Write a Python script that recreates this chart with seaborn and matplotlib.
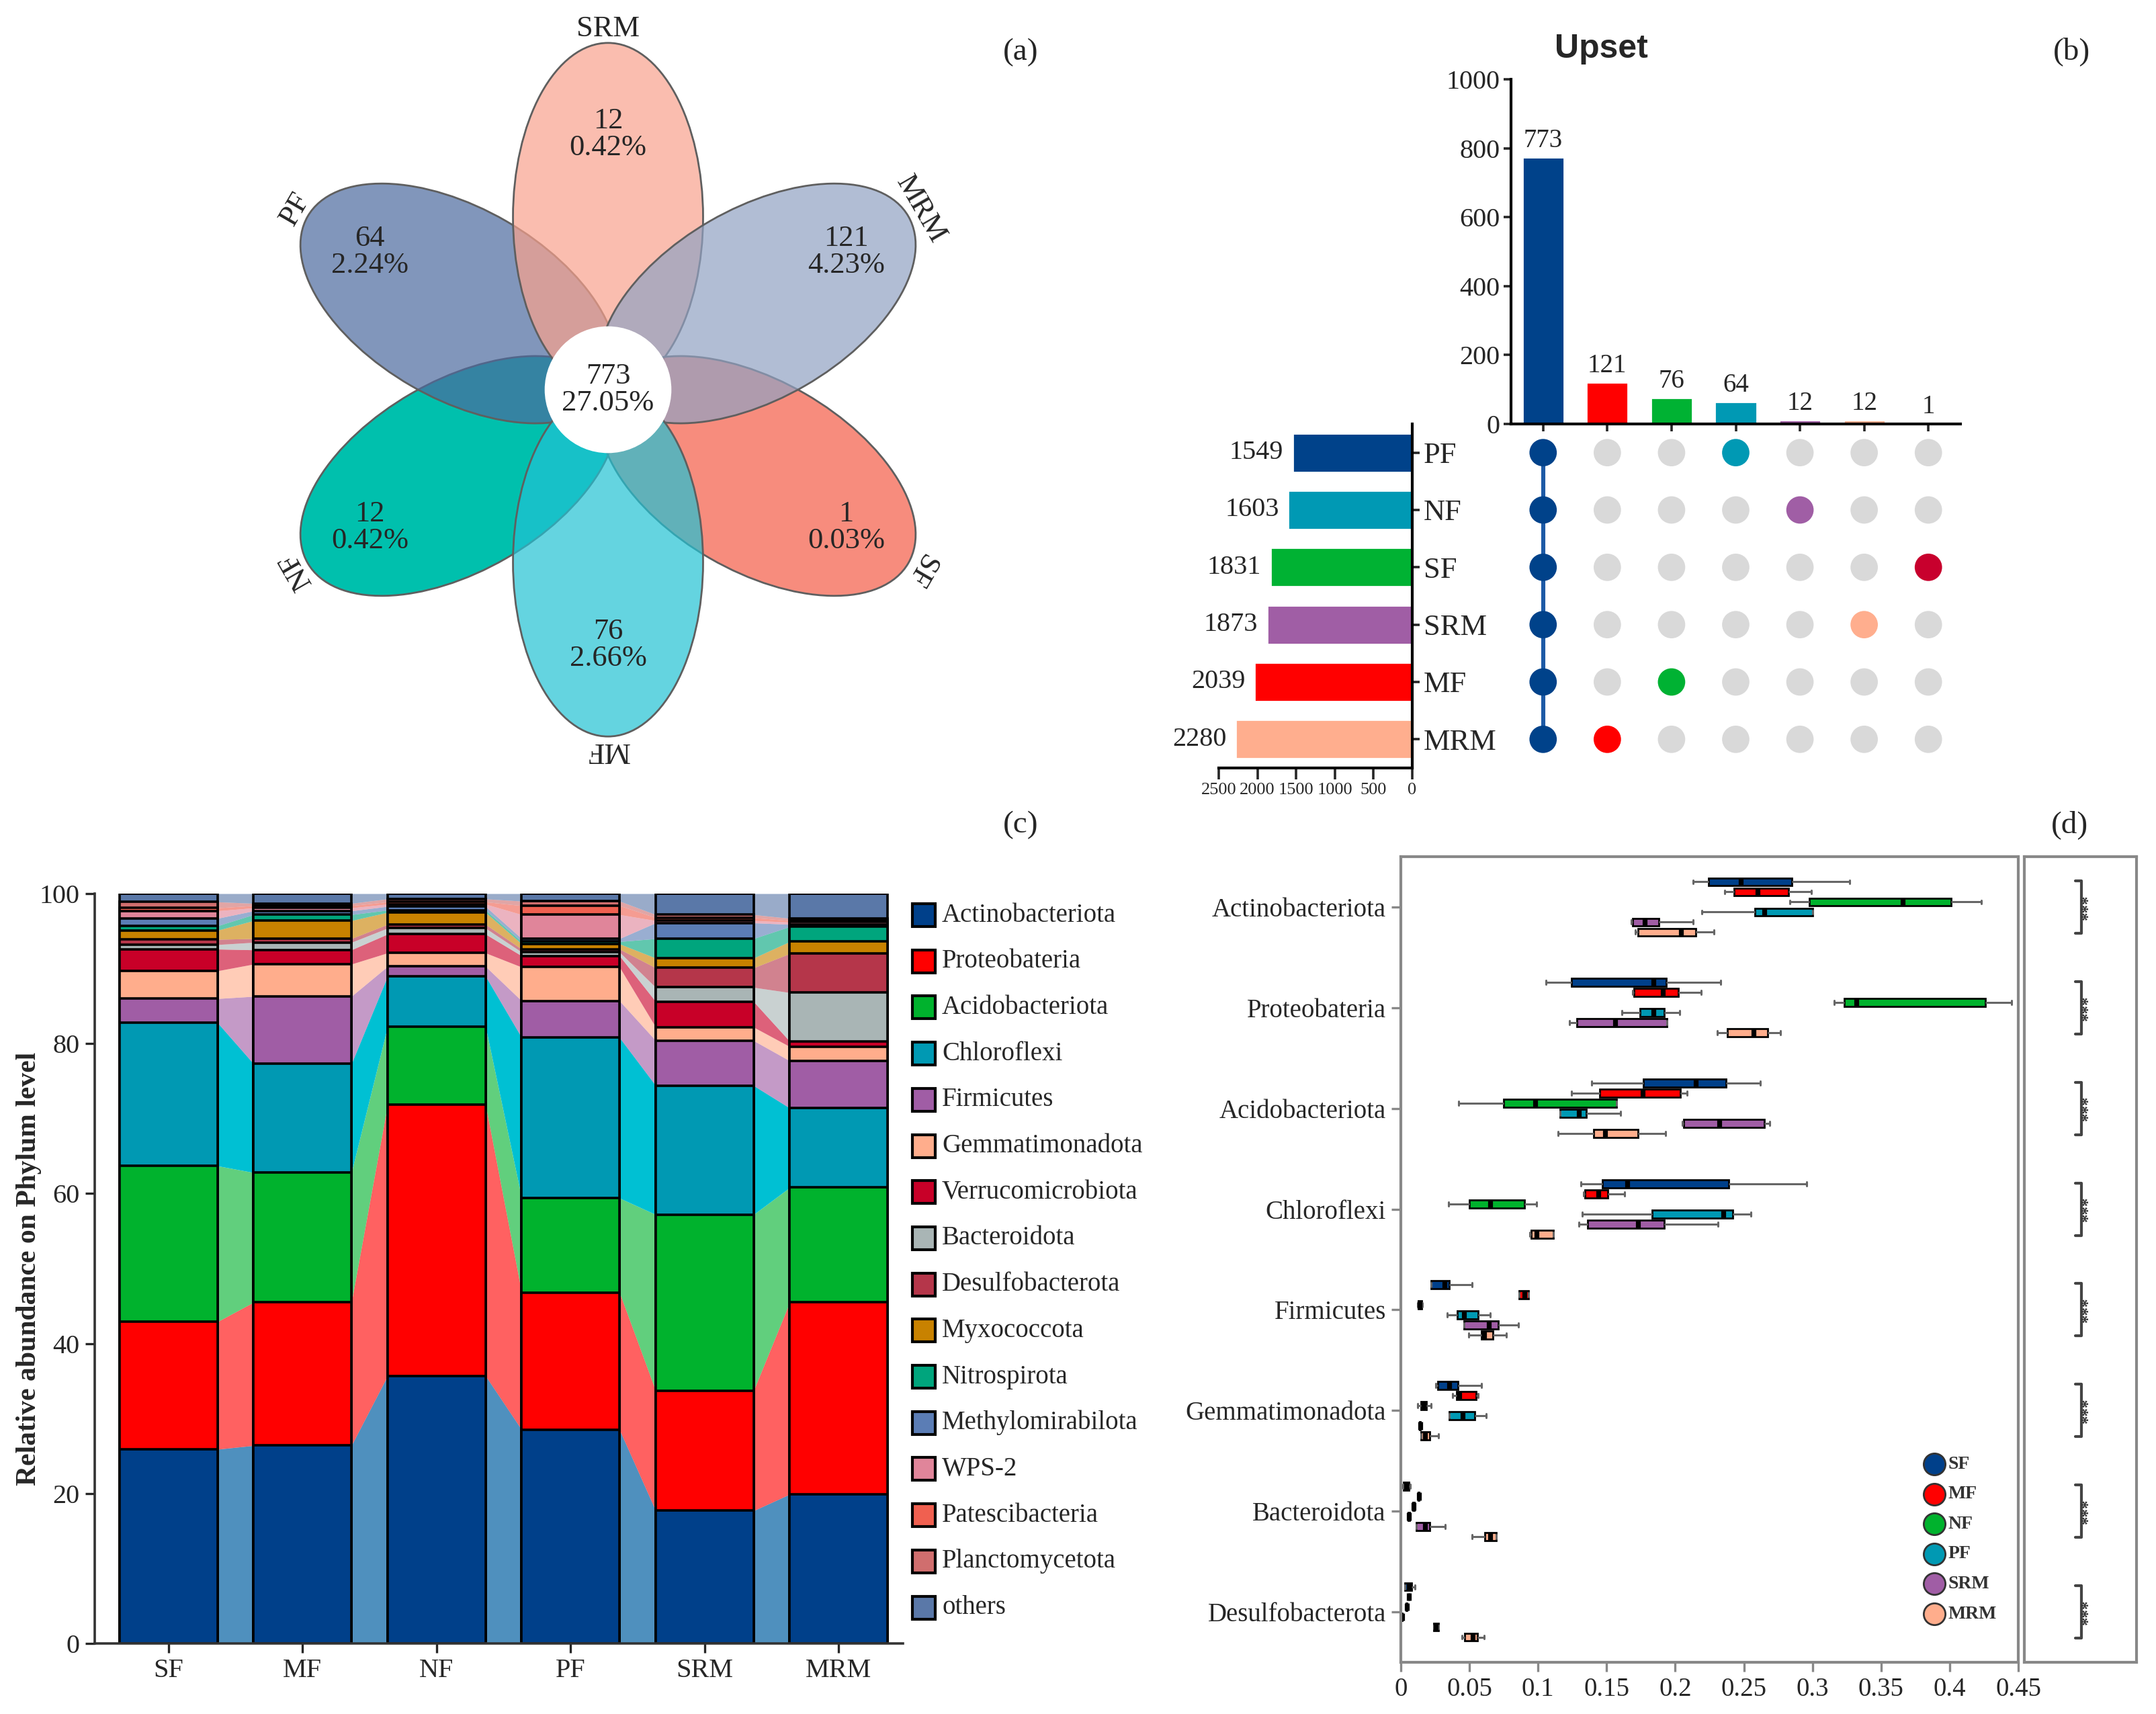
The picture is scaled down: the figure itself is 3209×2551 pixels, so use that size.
"""
Flower diagram, UpSet plot, phylum stacked bars and boxplots in one figure.
"""
import numpy as np
import pandas as pd
import matplotlib
matplotlib.use('Agg')
import matplotlib.pyplot as plt
import seaborn as sns
from matplotlib.patches import Ellipse, Circle, Rectangle
from matplotlib.colors import to_rgba
import warnings
warnings.filterwarnings('ignore')

W, H = 3209, 2551
DPI = 200

# ---------------- data ----------------
# (a) flower
PETALS = ['SRM', 'MRM', 'SF', 'MF', 'NF', 'PF']
PETAL_COUNTS = [12, 121, 1, 76, 12, 64]
PETAL_PCT = ['0.42%', '4.23%', '0.03%', '2.66%', '0.42%', '2.24%']
CORE_COUNT = 773
CORE_PCT = '27.05%'

# (b) upset
SET_NAMES = ['PF', 'NF', 'SF', 'SRM', 'MF', 'MRM']
SET_SIZES = [1549, 1603, 1831, 1873, 2039, 2280]
INTER_LABELS = ['ALL', 'MRM', 'MF', 'PF', 'NF', 'SRM', 'SF']
INTER_SIZES = [773, 121, 76, 64, 12, 12, 1]

# (c) relative abundance (%), bottom -> top
PHYLA = ['Actinobacteriota', 'Proteobateria', 'Acidobacteriota', 'Chloroflexi',
         'Firmicutes', 'Gemmatimonadota', 'Verrucomicrobiota', 'Bacteroidota',
         'Desulfobacterota', 'Myxococcota', 'Nitrospirota', 'Methylomirabilota',
         'WPS-2', 'Patescibacteria', 'Planctomycetota', 'others']
SAMPLES = ['SF', 'MF', 'NF', 'PF', 'SRM', 'MRM']
SF_ABUND = [25.9, 17.0, 20.8, 19.1, 3.2, 3.7, 2.9, 0.6, 0.7, 1.2, 0.6, 1.0, 1.0, 0.4, 0.8, 1.1]
MF_ABUND = [26.4, 19.1, 17.3, 14.5, 9.0, 4.3, 1.9, 1.0, 0.5, 2.4, 0.8, 0.5, 0.4, 0.3, 0.3, 1.3]
NF_ABUND = [35.7, 36.2, 10.4, 6.7, 1.3, 1.8, 2.5, 0.8, 0.5, 1.6, 0.3, 0.5, 0.3, 0.3, 0.4, 0.7]
PF_ABUND = [28.5, 18.3, 12.6, 21.4, 4.9, 4.5, 1.5, 0.5, 0.4, 0.7, 0.3, 0.4, 3.2, 1.2, 0.6, 1.0]
SRM_ABUND = [17.7, 16.0, 23.5, 17.2, 6.0, 1.8, 3.4, 1.9, 2.6, 1.3, 2.6, 2.1, 0.3, 0.4, 0.4, 2.8]
MRM_ABUND = [19.9, 25.6, 15.3, 10.6, 6.3, 1.9, 0.7, 6.5, 5.2, 1.6, 2.0, 0.3, 0.3, 0.2, 0.3, 3.3]

# (d) box summaries (whisker low, q1, median, q3, whisker high), groups SF..MRM
BOX_PHYLA = ['Actinobacteriota', 'Proteobateria', 'Acidobacteriota', 'Chloroflexi',
             'Firmicutes', 'Gemmatimonadota', 'Bacteroidota', 'Desulfobacterota']
ACTINO_BOX = [(0.213, 0.2245, 0.248, 0.285, 0.327), (0.236, 0.243, 0.260, 0.2825, 0.299),
              (0.2835, 0.2977, 0.366, 0.401, 0.423), (0.2195, 0.258, 0.265, 0.300, 0.300),
              (0.168, 0.169, 0.1777, 0.188, 0.213), (0.171, 0.173, 0.204, 0.215, 0.228)]
PROTEO_BOX = [(0.106, 0.1245, 0.184, 0.1935, 0.233), (0.169, 0.170, 0.191, 0.202, 0.219),
              (0.316, 0.323, 0.332, 0.426, 0.445), (0.161, 0.1745, 0.184, 0.192, 0.203),
              (0.123, 0.1285, 0.156, 0.194, 0.194), (0.2306, 0.238, 0.2573, 0.2674, 0.2765)]
ACIDO_BOX = [(0.139, 0.1766, 0.215, 0.237, 0.262), (0.1245, 0.145, 0.1765, 0.2037, 0.2085),
             (0.042, 0.075, 0.098, 0.157, 0.157), (0.116, 0.116, 0.130, 0.135, 0.160),
             (0.205, 0.206, 0.232, 0.265, 0.269), (0.1146, 0.1406, 0.149, 0.173, 0.193)]
CHLORO_BOX = [(0.131, 0.147, 0.165, 0.239, 0.296), (0.133, 0.134, 0.144, 0.151, 0.163),
              (0.035, 0.050, 0.065, 0.090, 0.099), (0.132, 0.183, 0.235, 0.242, 0.255),
              (0.130, 0.136, 0.173, 0.192, 0.231), (0.094, 0.095, 0.099, 0.111, 0.111)]
FIRMI_BOX = [(0.022, 0.022, 0.032, 0.0355, 0.052), (0.086, 0.086, 0.090, 0.093, 0.093),
             (0.0122, 0.0125, 0.0138, 0.015, 0.0155), (0.034, 0.041, 0.046, 0.0565, 0.065),
             (0.046, 0.046, 0.064, 0.071, 0.0856), (0.0497, 0.0587, 0.0607, 0.0672, 0.0771)]
GEMMA_BOX = [(0.0254, 0.0268, 0.0353, 0.0418, 0.0587), (0.0375, 0.0404, 0.0426, 0.055, 0.0565),
             (0.0121, 0.0149, 0.0167, 0.0186, 0.022), (0.0355, 0.0355, 0.0451, 0.0539, 0.0624),
             (0.0135, 0.0138, 0.014, 0.0142, 0.0145), (0.0149, 0.0149, 0.0177, 0.0211, 0.0276)]
BACTERO_BOX = [(0.0013, 0.002, 0.004, 0.006, 0.007), (0.0125, 0.0127, 0.013, 0.0133, 0.0135),
               (0.0088, 0.009, 0.0093, 0.0096, 0.0098), (0.0054, 0.0056, 0.0059, 0.0062, 0.0064),
               (0.0115, 0.0115, 0.0177, 0.0211, 0.0324), (0.0517, 0.061, 0.0649, 0.0694, 0.0694)]
DESULFO_BOX = [(0.0027, 0.0027, 0.006, 0.0078, 0.0101), (0.0055, 0.0057, 0.0059, 0.0061, 0.0063),
               (0.004, 0.0041, 0.0043, 0.0045, 0.0046), (0.0004, 0.0006, 0.0008, 0.001, 0.0012),
               (0.024, 0.024, 0.0257, 0.0276, 0.0276), (0.0446, 0.0465, 0.0525, 0.0559, 0.0607)]

# ---------------- colours ----------------
PETAL_COLORS = {'SRM': '#F9A28D', 'MRM': '#91A2C2', 'SF': '#F45B46',
                'MF': '#22C2D4', 'NF': '#00C0AD', 'PF': '#4C6A9E'}
PETAL_ALPHA = {'SRM': 0.7, 'MRM': 0.7, 'SF': 0.7, 'MF': 0.7, 'NF': 1.0, 'PF': 0.7}
SET_COLORS = {'PF': '#00428A', 'NF': '#0099B4', 'SF': '#00B233',
              'SRM': '#A05EA5', 'MF': '#FF0000', 'MRM': '#FFAE8E'}
INTER_COLORS = {'ALL': '#00428A', 'MRM': '#FF0000', 'MF': '#00B233', 'PF': '#0099B4',
                'NF': '#A05EA5', 'SRM': '#FFAE8E', 'SF': '#C8002D'}
PHYLA_COLORS = ['#00408A', '#FF0000', '#00B22D', '#0099B3', '#A05DA5', '#FFAD8C',
                '#C80028', '#A9B5B5', '#B5364A', '#C88200', '#00A57D', '#5B7DB5',
                '#E0859A', '#F06050', '#D06E6E', '#5A78A8']
FLOW_OVERRIDE = {'Actinobacteriota': '#4F90BE', 'Chloroflexi': '#00C0D3'}
GROUP_COLORS = {'SF': '#00408A', 'MF': '#FF0000', 'NF': '#00B22D',
                'PF': '#0099B3', 'SRM': '#A05DA5', 'MRM': '#FFAD8C'}

sns.set_style('white')
plt.rcParams['font.family'] = ['Liberation Serif', 'DejaVu Serif']
plt.rcParams['axes.edgecolor'] = 'black'

fig = plt.figure(figsize=(W / DPI, H / DPI), dpi=DPI)


def px_axes(x0, y0, x1, y1):
    """Axes placed by pixel box (top-left origin)."""
    return fig.add_axes([x0 / W, 1 - y1 / H, (x1 - x0) / W, (y1 - y0) / H])


def fxy(x, y):
    return x / W, 1 - y / H


# ================= (a) flower =================
cx, cy, unit = 905, 580, 262
axA = px_axes(300, 0, 1510, 1160)
axA.set_xlim((300 - cx) / unit, (1510 - cx) / unit)
axA.set_ylim((cy - 1160) / unit, (cy - 0) / unit)
axA.axis('off')
angles = {'SRM': 90, 'MRM': 30, 'SF': -30, 'MF': -90, 'NF': -150, 'PF': 150}
for name in ['NF', 'PF', 'SRM', 'SF', 'MRM', 'MF']:
    th = np.deg2rad(angles[name])
    e = Ellipse((0.98 * np.cos(th), 0.98 * np.sin(th)), 2 * 0.99, 2 * 0.54,
                angle=angles[name], fc=to_rgba(PETAL_COLORS[name], PETAL_ALPHA[name]),
                ec='#5f5f5f', lw=1.0)
    axA.add_patch(e)
for name, cnt, pct in zip(PETALS, PETAL_COUNTS, PETAL_PCT):
    th = np.deg2rad(angles[name])
    r = 1.45 + 0.13 * abs(np.cos(th))
    axA.text(r * np.cos(th), r * np.sin(th), f'{cnt}\n{pct}', ha='center', va='center',
             fontsize=16, linespacing=1.0)
    axA.text(2.05 * np.cos(th), 2.05 * np.sin(th), name, ha='center', va='center',
             rotation=angles[name] - 90, rotation_mode='anchor', fontsize=16)
axA.add_patch(Circle((0, 0), 0.36, fc='white', ec='none', zorder=5))
axA.text(0, 0, f'{CORE_COUNT}\n{CORE_PCT}', ha='center', va='center', fontsize=16,
         linespacing=1.0, zorder=6)

# ================= (b) upset =================
axU = px_axes(2249, 118, 2918, 631)
df_inter = pd.DataFrame({'inter': INTER_LABELS, 'size': INTER_SIZES})
sns.barplot(data=df_inter, x='inter', y='size', hue='inter', palette=INTER_COLORS,
            legend=False, width=0.65, saturation=1, ax=axU)
for i, v in enumerate(INTER_SIZES):
    axU.text(i, v + 12, str(v), ha='center', va='bottom', fontsize=14)
axU.set_xlim(-0.5, 6.5)
axU.set_ylim(0, 1000)
axU.set_yticks(range(0, 1001, 200))
axU.set_xticks(range(7))
axU.set_xticklabels([''] * 7)
axU.set_xlabel('')
axU.set_ylabel('')
sns.despine(ax=axU)
for s in ['left', 'bottom']:
    axU.spines[s].set_linewidth(1.5)
axU.tick_params(axis='both', direction='out', length=4, width=1.3, labelsize=14.5,
                left=True, bottom=True, pad=2)

# matrix of dots
axM = px_axes(2249, 631, 2918, 1143)
rows, cols, member = [], [], []
members = {'ALL': SET_NAMES}
for lab in INTER_LABELS[1:]:
    members[lab] = [lab]
for j, lab in enumerate(INTER_LABELS):
    for i, s in enumerate(SET_NAMES):
        rows.append(i)
        cols.append(j)
        member.append(lab if s in members[lab] else 'none')
df_dots = pd.DataFrame({'row': rows, 'col': cols, 'member': member})
axM.plot([0, 0], [0, 5], color='#1D5AA6', lw=2.2, zorder=1)
sns.scatterplot(data=df_dots, x='col', y='row', hue='member',
                palette={**INTER_COLORS, 'none': '#D9D9D9'}, s=215, linewidth=0,
                legend=False, ax=axM, zorder=2)
axM.set_xlim(-0.5, 6.5)
axM.set_ylim(5.5, -0.5)
axM.axis('off')

# set size bars
axL = px_axes(1814, 631, 2102, 1143)
df_sets = pd.DataFrame({'set': SET_NAMES, 'size': SET_SIZES})
sns.barplot(data=df_sets, x='size', y='set', hue='set', palette=SET_COLORS, orient='h',
            legend=False, width=0.68, saturation=1, ax=axL)
for i, v in enumerate(SET_SIZES):
    axL.text(v + 120, i, str(v), ha='right', va='center', fontsize=14.5)
axL.set_xlim(2500, 0)
axL.set_ylim(5.5, -0.5)
axL.set_xticks(range(2500, -1, -500))
axL.set_xlabel('')
axL.set_ylabel('')
axL.yaxis.tick_right()
for s in ['left', 'top']:
    axL.spines[s].set_visible(False)
for s in ['right', 'bottom']:
    axL.spines[s].set_linewidth(1.5)
axL.tick_params(axis='y', direction='out', length=4, width=1.3, labelsize=16, right=True,
                pad=2)
axL.tick_params(axis='x', direction='out', length=6, width=1.3, labelsize=9.5, bottom=True,
                pad=2)
fig.text(*fxy(2383, 73), 'Upset', ha='center', va='center', fontsize=18,
         fontweight='bold', family='Liberation Sans')

# ================= (c) stacked bars with flows =================
axC = px_axes(141, 1330, 1344, 2446)
abund = np.array([SF_ABUND, MF_ABUND, NF_ABUND, PF_ABUND, SRM_ABUND, MRM_ABUND])
cum_top = np.cumsum(abund, axis=1)
cum_bot = cum_top - abund
bw = 0.73
for k in range(len(PHYLA) - 1, -1, -1):
    sns.barplot(x=SAMPLES, y=cum_top[:, k], color=PHYLA_COLORS[k], edgecolor='black',
                linewidth=1.3, width=bw, saturation=1, ax=axC)
for k, ph in enumerate(PHYLA):
    fc = FLOW_OVERRIDE.get(ph, None)
    for i in range(len(SAMPLES) - 1):
        xs = [i + bw / 2, i + 1 - bw / 2]
        if fc is None:
            axC.fill_between(xs, [cum_bot[i, k], cum_bot[i + 1, k]],
                             [cum_top[i, k], cum_top[i + 1, k]],
                             color=PHYLA_COLORS[k], alpha=0.62, lw=0, zorder=0)
        else:
            axC.fill_between(xs, [cum_bot[i, k], cum_bot[i + 1, k]],
                             [cum_top[i, k], cum_top[i + 1, k]],
                             color=fc, lw=0, zorder=0)
axC.set_xlim(-0.55, 5.48)
axC.set_ylim(0, 100)
axC.set_yticks(range(0, 101, 20))
axC.set_xlabel('')
axC.set_ylabel('Relative abundance on Phylum level', fontsize=15, fontweight='bold')
axC.yaxis.set_label_coords(-0.066, 0.5)
sns.despine(ax=axC)
for s in ['left', 'bottom']:
    axC.spines[s].set_linewidth(1.3)
    axC.spines[s].set_color('#333333')
axC.tick_params(axis='both', direction='out', length=5, width=1.2, labelsize=14.5,
                left=True, bottom=True, pad=3)

# legend (c)
for i, (ph, col) in enumerate(zip(PHYLA, PHYLA_COLORS)):
    yp = 1362 + i * 68.7
    fig.add_artist(Rectangle(fxy(1358, yp + 17), 34 / W, 34 / H, transform=fig.transFigure,
                             fc=col, ec='black', lw=1.5))
    fig.text(*fxy(1402, yp), ph, ha='left', va='center', fontsize=14)

# ================= (d) boxplots =================
axD = px_axes(2085, 1275, 3004, 2474)
box_sets = [ACTINO_BOX, PROTEO_BOX, ACIDO_BOX, CHLORO_BOX, FIRMI_BOX, GEMMA_BOX,
            BACTERO_BOX, DESULFO_BOX]
recs = []
for ph, boxes in zip(BOX_PHYLA, box_sets):
    for g, five in zip(SAMPLES, boxes):
        for v in five:
            recs.append((ph, g, v))
df_box = pd.DataFrame(recs, columns=['phylum', 'group', 'value'])
sns.boxplot(data=df_box, x='value', y='phylum', hue='group', order=BOX_PHYLA,
            hue_order=SAMPLES, palette=GROUP_COLORS, orient='h', whis=(0, 100),
            width=0.6, gap=0.22, saturation=1, fliersize=0, linecolor='black',
            linewidth=1.0, legend=False, ax=axD,
            medianprops=dict(color='black', linewidth=2.6),
            whiskerprops=dict(color='#666666', linewidth=1.1),
            capprops=dict(color='#666666', linewidth=1.1))
axD.set_xlim(0, 0.45)
axD.set_ylim(7.5, -0.5)
ticks = np.round(np.arange(0, 0.451, 0.05), 2)
axD.set_xticks(ticks)
axD.set_xticklabels([f'{t:g}' for t in ticks])
axD.set_xlabel('')
axD.set_ylabel('')
for s in axD.spines.values():
    s.set_color('#888888')
    s.set_linewidth(1.5)
axD.tick_params(axis='both', direction='out', length=5, width=1.2, color='#888888',
                labelsize=14, left=True, bottom=True, pad=3)

# legend (d)
for i, g in enumerate(SAMPLES):
    yv = (2180 + i * 44.6 - 1350) / 150
    axD.scatter([0.3890], [yv], s=135, color=GROUP_COLORS[g], edgecolor='#333333',
                linewidth=1.0, zorder=5, clip_on=False)
    axD.text(0.3988, yv, g, ha='left', va='center', fontsize=10, fontweight='bold',
             color='#333333')

# significance strip
axS = px_axes(3013, 1275, 3180, 2474)
axS.set_xlim(0, 1)
axS.set_ylim(7.5, -0.5)
axS.set_xticks([])
axS.set_yticks([])
for s in axS.spines.values():
    s.set_color('#888888')
    s.set_linewidth(1.5)
for i in range(len(BOX_PHYLA)):
    axS.plot([0.455, 0.51, 0.51, 0.455], [i - 0.26, i - 0.26, i + 0.26, i + 0.26],
             color='#444444', lw=1.5)
    axS.text(0.57, i, '***', rotation=90, ha='center', va='center', fontsize=9,
             fontweight='bold', color='#333333')

# panel labels
for lab, (x, y) in {'(a)': (1519, 78), '(b)': (3083, 77),
                    '(c)': (1519, 1228), '(d)': (3080, 1228)}.items():
    fig.text(*fxy(x, y), lab, ha='center', va='center', fontsize=17)

plt.savefig('out.png', dpi=DPI)
plt.close()
